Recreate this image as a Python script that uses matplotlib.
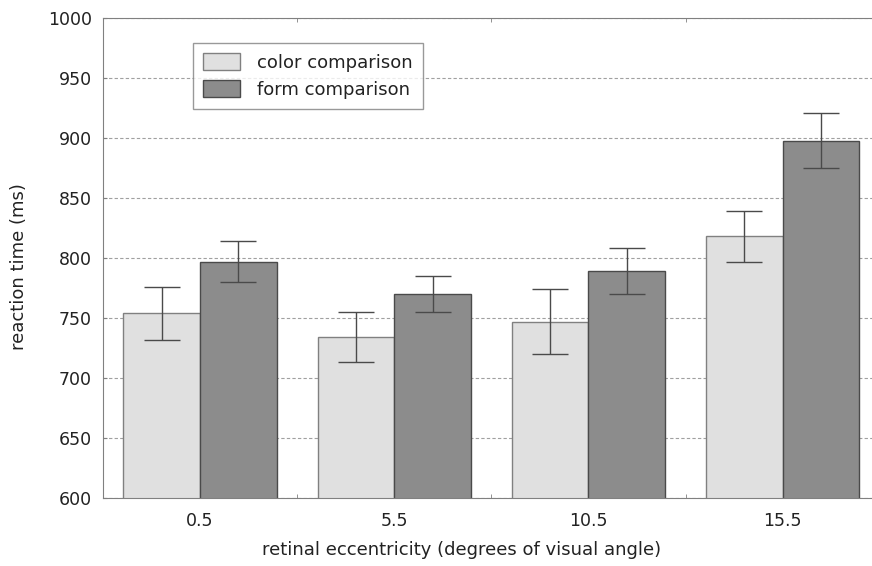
import matplotlib.pyplot as plt
import numpy as np

plt.rcParams['font.family'] = ['DejaVu Sans']

eccentricity = ['0.5', '5.5', '10.5', '15.5']
color_rt = [754, 734, 747, 818]
color_err = [22, 21, 27, 21]
form_rt = [797, 770, 789, 898]
form_err = [17, 15, 19, 23]

fig = plt.figure(figsize=(8.72, 5.66), dpi=100)
# the right edge of the axes runs past the figure, as in the original crop
ax = fig.add_axes([0.118, 0.12, 0.891, 0.848])

x = np.arange(len(eccentricity))
w = 0.395
ekw = dict(ecolor='#4a4a4a', elinewidth=1.0, capsize=13, capthick=1.0)
ax.bar(x - w / 2, color_rt, w, yerr=color_err, color='#e0e0e0',
       edgecolor='#808080', linewidth=1.0, label='color comparison',
       error_kw=ekw, zorder=2)
ax.bar(x + w / 2, form_rt, w, yerr=form_err, color='#8c8c8c',
       edgecolor='#4a4a4a', linewidth=1.0, label='form comparison',
       error_kw=ekw, zorder=2)

ax.set_ylim(600, 1000)
ax.set_xlim(-0.5, 3.5)
ax.set_yticks(np.arange(600, 1001, 50))
ax.set_xticks(x)
ax.set_xticklabels(eccentricity)
ax.set_xticks([0.5, 1.5, 2.5], minor=True)
ax.tick_params(axis='x', which='major', length=0, pad=10, labelsize=12.5,
               labelcolor='#222222')
ax.tick_params(axis='x', which='minor', direction='in', length=3,
               top=True, color='#808080')
ax.tick_params(axis='y', direction='in', length=3, color='#808080',
               labelsize=12.5, pad=8, labelcolor='#222222')
ax.yaxis.grid(True, linestyle=(0, (3, 2)), color='#a0a0a0', linewidth=0.8,
              zorder=1)
ax.set_axisbelow(True)
for s in ax.spines.values():
    s.set_color('#808080')

ax.set_xlabel('retinal eccentricity (degrees of visual angle)', fontsize=13,
              color='#222222')
ax.xaxis.set_label_coords(0.462, -0.09)
ax.set_ylabel('reaction time (ms)', fontsize=13, color='#222222')
ax.yaxis.set_label_coords(-0.097, 0.483)

leg = ax.legend(loc='upper left', bbox_to_anchor=(0.116, 0.948),
                fontsize=13, frameon=True, fancybox=False,
                handlelength=2.05, handleheight=1.1, borderpad=0.55,
                labelspacing=0.45, handletextpad=0.95, borderaxespad=0)
leg.get_frame().set_edgecolor('#808080')
leg.get_frame().set_linewidth(1.0)
for t in leg.get_texts():
    t.set_color('#222222')

fig.savefig('out.png', dpi=100)
